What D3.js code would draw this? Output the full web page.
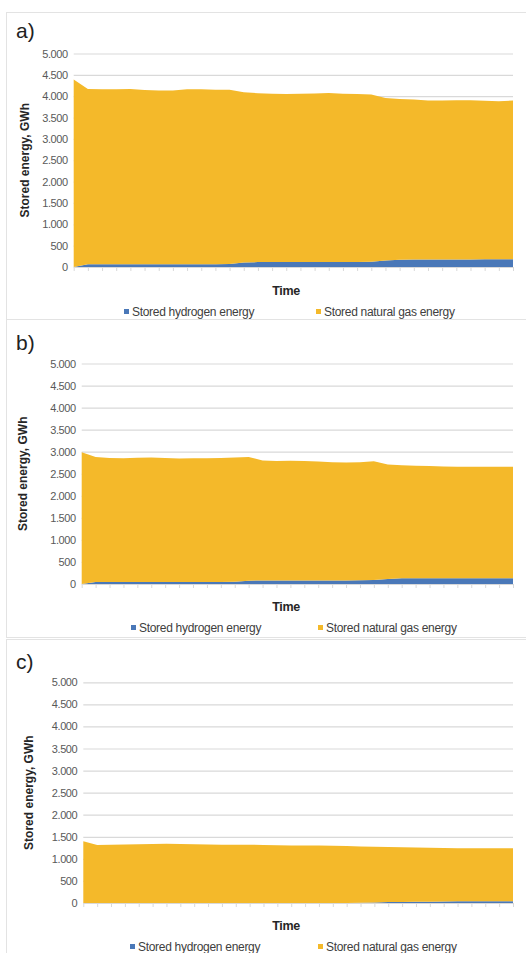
<!DOCTYPE html>
<html>
<head>
<meta charset="utf-8">
<script src="https://cdn.jsdelivr.net/npm/d3@7"></script>
<style>
  body { margin: 0; background: #fff; }
  svg { display: block; }
  text { font-family: "Liberation Sans", Arial, sans-serif; }
</style>
</head>
<body>
<div class="chart"></div>
<script>
var width = 526;
var height = 953;

// time steps (unlabelled category axis)
var timeSteps = d3.range(1, 33);

var yTicks = [0, 500, 1000, 1500, 2000, 2500, 3000, 3500, 4000, 4500, 5000];
var seriesNames = ["Stored hydrogen energy", "Stored natural gas energy"];
var seriesColors = ["#4a78b8", "#f4b92a"];

// panel a
var hydrogenA = [0, 65, 65, 65, 65, 65, 65, 65, 65, 65, 65, 70, 105, 115, 115, 115, 115, 115, 115, 115, 120, 125, 150, 172, 175, 175, 175, 178, 178, 180, 180, 180];
var gasA = [4390, 4105, 4100, 4100, 4105, 4080, 4070, 4070, 4095, 4100, 4085, 4080, 3990, 3955, 3945, 3935, 3940, 3950, 3960, 3945, 3930, 3915, 3810, 3763, 3750, 3725, 3725, 3727, 3727, 3715, 3700, 3720];

// panel b
var hydrogenB = [0, 45, 45, 45, 45, 45, 45, 45, 45, 45, 45, 50, 75, 80, 80, 80, 80, 80, 80, 80, 85, 90, 115, 128, 130, 130, 130, 130, 132, 132, 132, 132];
var gasB = [2990, 2835, 2810, 2805, 2815, 2825, 2810, 2800, 2805, 2805, 2810, 2820, 2805, 2720, 2710, 2715, 2710, 2695, 2680, 2675, 2675, 2695, 2595, 2562, 2550, 2545, 2535, 2530, 2528, 2528, 2528, 2528];

// panel c
var hydrogenC = [0, 0, 0, 0, 0, 0, 0, 0, 0, 0, 0, 0, 0, 0, 0, 0, 0, 0, 0, 0, 5, 10, 20, 25, 28, 30, 35, 40, 40, 40, 40, 40];
var gasC = [1400, 1315, 1320, 1325, 1330, 1335, 1340, 1335, 1330, 1325, 1320, 1320, 1320, 1315, 1310, 1305, 1300, 1300, 1295, 1290, 1275, 1265, 1250, 1240, 1227, 1220, 1210, 1200, 1200, 1200, 1200, 1200];

var panels = [
    {label: "a)", hydrogen: hydrogenA, gas: gasA, boxTop: 12, boxBottom: 319, labelY: 38,
     left: 73.7, top: 53.5, bottom: 267, titleX: 25, timeY: 295, legendY: 316, legendX: [124, 316]},
    {label: "b)", hydrogen: hydrogenB, gas: gasB, boxTop: 319, boxBottom: 637, labelY: 350,
     left: 81.7, top: 363.5, bottom: 584, titleX: 23, timeY: 611, legendY: 632, legendX: [131, 318]},
    {label: "c)", hydrogen: hydrogenC, gas: gasC, boxTop: 639, boxBottom: 960, labelY: 669,
     left: 83.3, top: 682.3, bottom: 903, titleX: 29, timeY: 930, legendY: 951, legendX: [130, 318]}
];
var plotRight = 513;

var locale = d3.formatLocale({decimal: ",", thousands: ".", grouping: [3], currency: ["", ""]});
var fmt = locale.format(",");

var svg = d3.select(".chart")
    .append("svg")
    .attr("width", width)
    .attr("height", height);

function drawPanel(p) {
    var g = svg.append("g");

    g.append("rect")
        .attr("x", 6.5).attr("y", p.boxTop + 0.5)
        .attr("width", 530).attr("height", p.boxBottom - p.boxTop)
        .attr("fill", "none").attr("stroke", "#e3e3e3");

    g.append("text")
        .attr("x", 16).attr("y", p.labelY)
        .attr("font-family", "Lato, sans-serif")
        .attr("font-size", 21)
        .attr("fill", "#222")
        .text(p.label);

    var x = d3.scaleLinear().domain([0, timeSteps.length - 1]).range([p.left, plotRight]);
    var y = d3.scaleLinear().domain([0, 5000]).range([p.bottom, p.top]);

    // gridlines + tick labels
    var yAxis = g.append("g")
        .attr("transform", `translate(${p.left},0)`)
        .call(d3.axisLeft(y).tickValues(yTicks).tickFormat(fmt).tickSize(-(plotRight - p.left)).tickPadding(6));
    yAxis.select(".domain").remove();
    yAxis.selectAll(".tick line").attr("stroke", "#d9d9d9").attr("stroke-width", 1.2);
    yAxis.selectAll(".tick text")
        .attr("fill", "#595959")
        .attr("font-size", 11)
        .attr("letter-spacing", -0.4)
        .attr("font-family", "\"Liberation Sans\", Arial, sans-serif");

    var data = timeSteps.map(function(t, i) {
        return {t: i, hydrogen: p.hydrogen[i], gas: p.gas[i]};
    });
    var stacked = d3.stack().keys(["hydrogen", "gas"])(data);

    var area = d3.area()
        .x(function(d) { return x(d.data.t); })
        .y0(function(d) { return y(d[0]); })
        .y1(function(d) { return y(d[1]); });

    g.selectAll(".layer")
        .data(stacked)
        .enter()
        .append("path")
        .attr("class", "layer")
        .attr("d", area)
        .attr("fill", function(d, i) { return seriesColors[i]; });

    var xAxis = g.append("g")
        .attr("transform", `translate(0,${p.bottom})`)
        .call(d3.axisBottom(x).tickValues(d3.range(timeSteps.length)).tickFormat("").tickSize(4).tickSizeOuter(0));
    xAxis.select(".domain").attr("stroke", "#d9d9d9");
    xAxis.selectAll(".tick line").attr("stroke", "#d9d9d9");

    g.append("text")
        .attr("transform", `translate(${p.titleX},${(p.top + p.bottom) / 2}) rotate(-90)`)
        .attr("text-anchor", "middle")
        .attr("dy", "0.35em")
        .attr("font-size", 12)
        .attr("font-weight", "bold")
        .attr("fill", "#262626")
        .text("Stored energy, GWh");

    g.append("text")
        .attr("x", 286).attr("y", p.timeY)
        .attr("text-anchor", "middle")
        .attr("font-size", 12.5)
        .attr("font-weight", "bold")
        .attr("letter-spacing", -0.3)
        .attr("fill", "#262626")
        .text("Time");

    seriesNames.forEach(function(name, i) {
        g.append("rect")
            .attr("x", p.legendX[i]).attr("y", p.legendY - 7)
            .attr("width", 5).attr("height", 5)
            .attr("fill", seriesColors[i]);
        g.append("text")
            .attr("x", p.legendX[i] + 8).attr("y", p.legendY)
            .attr("font-size", 12)
            .attr("letter-spacing", -0.3)
            .attr("fill", "#404040")
            .text(name);
    });
}

panels.forEach(drawPanel);
</script>
</body>
</html>
